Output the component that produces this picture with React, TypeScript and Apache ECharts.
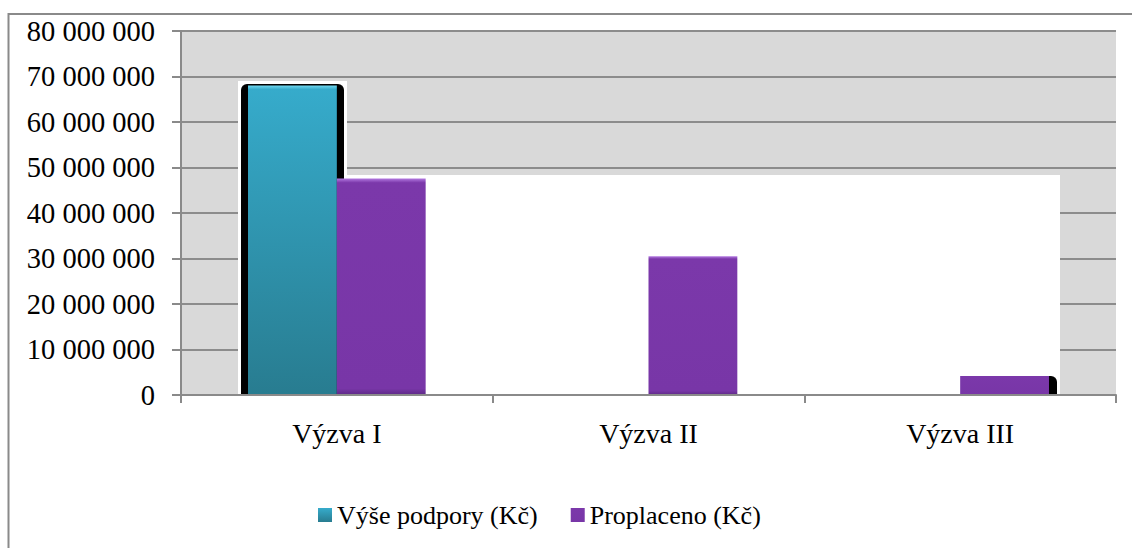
import React, { useEffect, useRef } from "react";
import * as echarts from "echarts";

const categories = ["Výzva I", "Výzva II", "Výzva III"];
const seriesNames = ["Výše podpory (Kč)", "Proplaceno (Kč)"];
const vysePodpory = [68000000, 0, 0];
const proplaceno = [47600000, 30500000, 4200000];
const yMin = 0;
const yMax = 80000000;
const yStep = 10000000;

const FONT = "Liberation Serif";

function fmt(v: number): string {
  return String(Math.round(v)).replace(/\B(?=(\d{3})+(?!\d))/g, " ");
}

export default function App() {
  const ref = useRef<HTMLDivElement>(null);
  useEffect(() => {
    if (!ref.current) return;
    const chart = echarts.init(ref.current, undefined, { renderer: "svg" });
    const tealGrad = new echarts.graphic.LinearGradient(0, 0, 0, 1, [
      { offset: 0, color: "#6fd6ee" },
      { offset: 0.012, color: "#36abcb" },
      { offset: 1, color: "#287c90" },
    ]);
    const purpleGrad = new echarts.graphic.LinearGradient(0, 0, 0, 1, [
      { offset: 0, color: "#b47ae2" },
      { offset: 0.02, color: "#7b38aa" },
      { offset: 0.97, color: "#7836a7" },
      { offset: 1, color: "#5d2a86" },
    ]);
    chart.setOption({
      animation: false,
      backgroundColor: "#ffffff",
      textStyle: { fontFamily: FONT },
      grid: {
        left: 181,
        top: 31,
        right: 16,
        bottom: 153,
        show: true,
        backgroundColor: "#d9d9d9",
        borderWidth: 0,
      },
      legend: {
        data: seriesNames,
        left: 313,
        top: 497,
        itemWidth: 14,
        itemHeight: 14,
        itemGap: 33,
        icon: "rect",
        textStyle: { fontFamily: FONT, fontSize: 26, color: "#000" },
      },
      xAxis: {
        type: "category",
        data: categories,
        z: 3,
        axisLine: { show: true, lineStyle: { color: "#8a8a8a", width: 2 } },
        axisTick: { show: true, length: 8, lineStyle: { color: "#8a8a8a", width: 2 } },
        axisLabel: { fontFamily: FONT, fontSize: 28, color: "#000", margin: 24 },
        splitLine: { show: false },
      },
      yAxis: {
        type: "value",
        min: yMin,
        max: yMax,
        interval: yStep,
        z: 0,
        axisLine: { show: true, lineStyle: { color: "#8a8a8a", width: 2 } },
        axisTick: { show: true, length: 9, lineStyle: { color: "#8a8a8a", width: 2 } },
        axisLabel: {
          fontFamily: FONT,
          fontSize: 28.5,
          color: "#000",
          margin: 26,
          formatter: (v: number) => fmt(v),
        },
        splitLine: { show: true, lineStyle: { color: "#8c8c8c", width: 2 } },
      },
      graphic: [
        {
          type: "rect",
          z: -1,
          shape: { x: 8.5, y: 14, width: 1300, height: 700 },
          style: { fill: "none", stroke: "#8a8a8a", lineWidth: 2 },
        },
        {
          type: "rect",
          z: 1,
          shape: { x: 335, y: 175, width: 725, height: 219 },
          style: { fill: "#ffffff" },
        },
        {
          type: "rect",
          z: 1,
          shape: { x: 238, y: 81, width: 109, height: 313 },
          style: { fill: "#ffffff" },
        },
        {
          type: "rect",
          z: 1,
          shape: { x: 241, y: 84, width: 103, height: 310, r: [6, 6, 0, 0] },
          style: { fill: "#000000" },
        },
        {
          type: "rect",
          z: 1,
          shape: { x: 1040, y: 376, width: 17, height: 18, r: [0, 6, 0, 0] },
          style: { fill: "#000000" },
        },
      ],
      series: [
        {
          name: seriesNames[0],
          type: "bar",
          data: vysePodpory,
          barGap: "0%",
          barCategoryGap: "43%",
          itemStyle: { color: tealGrad },
          z: 2,
        },
        {
          name: seriesNames[1],
          type: "bar",
          data: proplaceno,
          barGap: "0%",
          barCategoryGap: "43%",
          itemStyle: { color: purpleGrad },
          z: 2,
        },
      ],
    });
    return () => chart.dispose();
  }, []);
  return (
    <div
      ref={ref}
      style={{ position: "fixed", left: 0, top: 0, width: 1132, height: 548 }}
    />
  );
}
